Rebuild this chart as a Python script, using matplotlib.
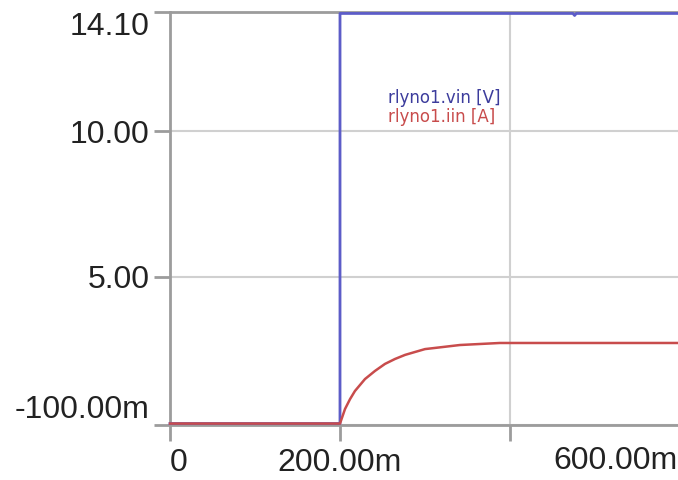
import numpy as np
import matplotlib.pyplot as plt

plt.rcParams['font.family'] = ['Liberation Sans', 'DejaVu Sans']

# transient simulation traces (time in s)
t_vin = [0.0, 0.2, 0.2, 0.474, 0.476, 0.478, 0.6]
vin = [-0.05, -0.05, 14.05, 14.05, 13.98, 14.05, 14.05]

t_iin = [0.0, 0.2, 0.2059, 0.2118, 0.2176, 0.2294, 0.2412, 0.2529, 0.2647,
         0.2765, 0.2882, 0.300, 0.3118, 0.341, 0.388, 0.6]
iin = [-0.05, -0.05, 0.45, 0.79, 1.07, 1.48, 1.76, 2.0, 2.17,
       2.31, 2.41, 2.51, 2.55, 2.65, 2.72, 2.72]

y_ticks = [-0.1, 5.0, 10.0, 14.1]
y_labels = ["-100.00m", "5.00", "10.00", "14.10"]
x_ticks = [0.0, 0.2, 0.4]
x_labels = ["0", "200.00m", ""]

blue = "#5c5cc8"
red = "#c84c4c"
axis_gray = "#9c9c9c"
text_col = "#222222"

fig = plt.figure(figsize=(6.78, 4.8), dpi=100)
ax = fig.add_axes([170 / 678, 1 - 425 / 480, 510 / 678, 413 / 480])

ax.plot(t_vin, vin, color=blue, lw=2, zorder=3, clip_on=False)
ax.plot(t_iin, iin, color=red, lw=1.8, zorder=4, clip_on=False)

ax.set_xlim(0, 0.6)
ax.set_ylim(-0.1, 14.1)

ax.set_yticks(y_ticks)
ax.set_yticklabels(y_labels, fontsize=23, color=text_col)
for lab in ax.get_yticklabels():
    if lab.get_text() == "14.10":
        lab.set_va("top")
    elif lab.get_text() == "-100.00m":
        lab.set_va("bottom")
ax.set_xticks(x_ticks)
ax.set_xticklabels(x_labels, fontsize=23, color=text_col)
ax.get_xticklabels()[0].set_ha("left")
fig.text(0.999, 1 - 461 / 480, "600.00m", ha="right", va="center",
         fontsize=23, color=text_col)

ax.tick_params(axis="both", length=11.5, width=2, color=axis_gray)
ax.tick_params(axis="x", pad=5)
ax.tick_params(axis="y", pad=3)
ax.grid(True, color="#d0d0d0", lw=1.5)
ax.set_axisbelow(True)
for side in ["left", "bottom", "top"]:
    ax.spines[side].set_color(axis_gray)
    ax.spines[side].set_linewidth(2)
ax.spines["right"].set_visible(False)

ax.text(0.257, 10.97, "rlyno1.vin [V]", color="#3c3c9c", fontsize=12,
        family="DejaVu Sans")
ax.text(0.257, 10.32, "rlyno1.iin [A]", color=red, fontsize=12,
        family="DejaVu Sans")

fig.savefig("out.png", dpi=100, facecolor="white")
